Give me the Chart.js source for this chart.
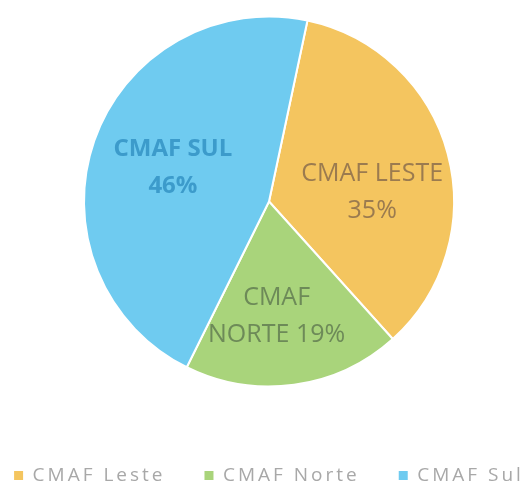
<!DOCTYPE html>
<html>
<head>
<meta charset="utf-8">
<script src="https://cdn.jsdelivr.net/npm/chart.js@4/dist/chart.umd.min.js"></script>
<style>
  html, body { margin: 0; padding: 0; background: #fff; overflow: hidden; width: 529px; height: 484px; }
  /* the original chart is a bit wider/taller than the shot, so the legend gets cut */
  #wrap { position: absolute; left: -31px; top: -24px; width: 600px; height: 519px; }
</style>
</head>
<body>
<div id="wrap"><canvas id="c"></canvas></div>
<script>
// data
var categories = ['CMAF Leste', 'CMAF Norte', 'CMAF Sul'];
var shares = [35, 19, 46];
var sliceLabels = [['CMAF LESTE', '35%'], ['CMAF', 'NORTE 19%'], ['CMAF SUL', '46%']];

var fills = ['#F4C55F', '#A9D47B', '#6FCBF0'];
var labelColors = ['#9B7B4F', '#6D8A58', '#3C9BCB'];
var labelBold = [false, false, true];
// where the text sits inside each slice (fraction of radius, angle nudge in deg)
var labelDist = [0.56, 0.62, 0.55];
var labelTurn = [10, 4, 0];

// legend text in the original is spaced out a bit
var spacing = {
  id: 'spacing',
  beforeLayout: function(chart) { chart.ctx.letterSpacing = '3px'; },
  beforeDraw: function(chart) { chart.ctx.letterSpacing = '3px'; }
};

// text inside the slices, placed from the arc geometry
var sliceText = {
  id: 'sliceText',
  afterDatasetsDraw: function(chart) {
    var ctx = chart.ctx;
    var meta = chart.getDatasetMeta(0);
    meta.data.forEach(function(arc, i) {
      var p = arc.getProps(['x', 'y', 'startAngle', 'endAngle', 'outerRadius'], true);
      var mid = (p.startAngle + p.endAngle) / 2 + labelTurn[i] * Math.PI / 180;
      var r = p.outerRadius * labelDist[i];
      var x = p.x + Math.cos(mid) * r;
      var y = p.y + Math.sin(mid) * r;
      var lines = sliceLabels[i];
      ctx.save();
      ctx.letterSpacing = '0px';
      ctx.fillStyle = labelColors[i];
      ctx.font = labelBold[i] ? 'bold 24px "Open Sans"' : '25px "Open Sans"';
      ctx.textAlign = 'center';
      ctx.textBaseline = 'middle';
      var lh = 37;
      for (var k = 0; k < lines.length; k++) {
        ctx.fillText(lines[k], x, y + (k - (lines.length - 1) / 2) * lh);
      }
      ctx.restore();
    });
  }
};

var pieLegendLabels = Chart.overrides.pie.plugins.legend.labels.generateLabels;

var ctx = document.getElementById('c').getContext('2d');
var chart = new Chart(ctx, {
  type: 'pie',
  data: {
    labels: categories,
    datasets: [{
      data: shares,
      backgroundColor: fills,
      borderColor: '#ffffff',
      borderWidth: 2,
      radius: 185
    }]
  },
  options: {
    responsive: true,
    maintainAspectRatio: false,
    animation: false,
    rotation: 12,
    layout: { padding: 0 },
    plugins: {
      tooltip: { enabled: false },
      legend: {
        position: 'bottom',
        labels: {
          boxWidth: 9,
          boxHeight: 9,
          padding: 39,
          color: '#a8a8a8',
          font: { family: '"Open Sans"', size: 19 },
          generateLabels: function(c) {
            var items = pieLegendLabels(c);
            items.forEach(function(it) { it.lineWidth = 0; });
            return items;
          }
        }
      }
    }
  },
  plugins: [spacing, sliceText]
});
</script>
</body>
</html>
